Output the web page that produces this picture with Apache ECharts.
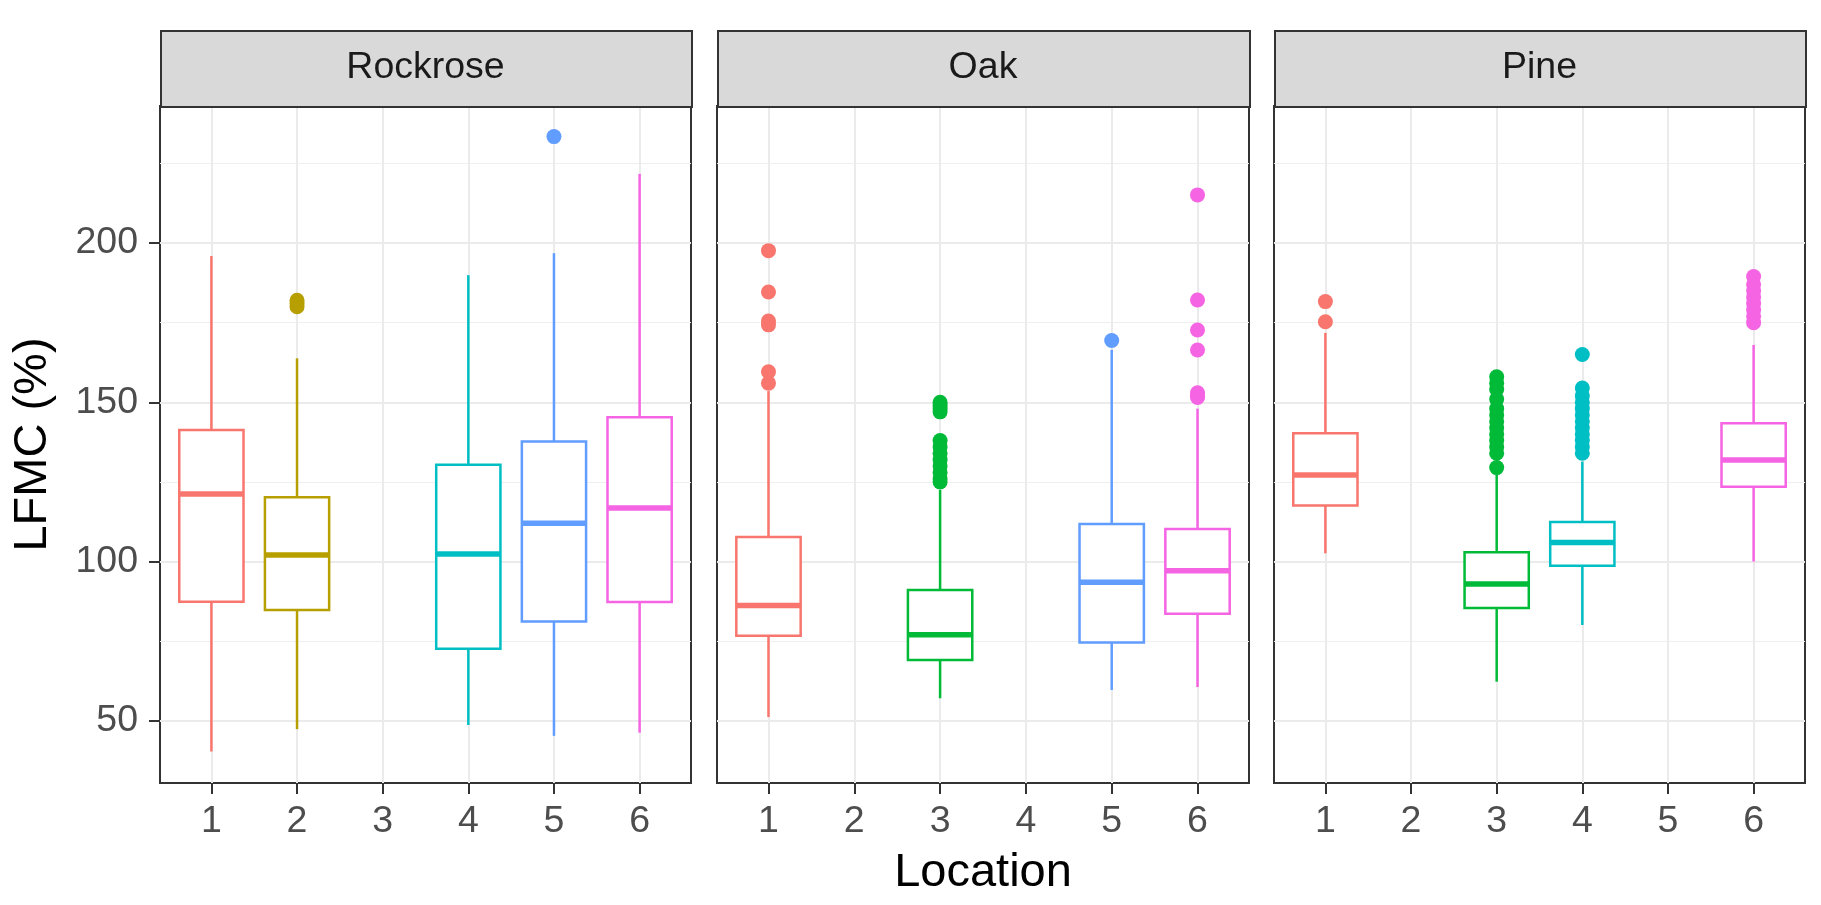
<!DOCTYPE html>
<html><head><meta charset="utf-8">
<script src="https://cdn.jsdelivr.net/npm/echarts@6/dist/echarts.min.js"></script>
<style>html,body{margin:0;padding:0;background:#fff}#c{width:1821px;height:905px}</style>
</head><body><div id="c"></div>
<script>
// ---------------- data ----------------
const facets = ['Rockrose', 'Oak', 'Pine'];
const locations = [1, 2, 3, 4, 5, 6];
const yTicks = [50, 100, 150, 200];
const yMinorTicks = [75, 125, 175, 225];
const yTitle = 'LFMC (%)';
const xTitle = 'Location';

// [location, lower whisker, Q1, median, Q3, upper whisker]
const rockroseBoxes = [
  [1, 40.4, 87.4, 121.2, 141.3, 195.9],
  [2, 47.4, 84.8, 102.1, 120.2, 163.8],
  [4, 48.7, 72.6, 102.4, 130.4, 189.9],
  [5, 45.3, 81.2, 112.0, 137.7, 196.8],
  [6, 46.3, 87.3, 116.8, 145.3, 221.7]
];
const rockroseOutliers = [[2, 180], [2, 181], [2, 182], [5, 233.4]];

const oakBoxes = [
  [1, 51.2, 76.7, 86.2, 107.7, 153.5],
  [3, 57.1, 69.1, 77.0, 91.1, 122.5],
  [5, 59.7, 74.6, 93.5, 111.8, 166.5],
  [6, 60.6, 83.6, 97.1, 110.2, 148.0]
];
const oakOutliers = [
  [1, 197.6], [1, 184.6], [1, 175.5], [1, 174.3], [1, 159.6], [1, 156.0],
  [3, 150], [3, 149], [3, 148], [3, 147], [3, 138], [3, 136], [3, 134], [3, 132], [3, 130], [3, 128], [3, 126], [3, 125],
  [5, 169.4],
  [6, 215.1], [6, 182.1], [6, 172.7], [6, 166.4], [6, 153], [6, 152], [6, 151.5]
];

const pineBoxes = [
  [1, 102.6, 117.6, 127.2, 140.3, 171.8],
  [3, 62.3, 85.4, 93.0, 102.9, 127.7],
  [4, 80.1, 98.7, 106.0, 112.4, 131.4],
  [6, 100.0, 123.5, 131.9, 143.4, 168.0]
];
const pineOutliers = [
  [1, 181.6], [1, 175.3],
  [3, 158], [3, 156], [3, 154], [3, 151], [3, 148], [3, 146], [3, 144], [3, 142], [3, 140], [3, 138], [3, 136], [3, 134], [3, 129.5],
  [4, 165], [4, 154.5], [4, 152], [4, 150], [4, 148], [4, 146], [4, 144], [4, 142], [4, 140], [4, 138], [4, 136], [4, 134],
  [6, 189.5], [6, 187], [6, 185], [6, 183], [6, 181], [6, 179], [6, 177], [6, 175]
];

// ---------------- style / layout ----------------
const palette = ['#F8766D', '#B79F00', '#00BA38', '#00BFC4', '#619CFF', '#F564E3'];
const panels = [
  { left: 160, width: 531 },
  { left: 717, width: 532 },
  { left: 1274, width: 531 }
];
const panelTop = 106, panelHeight = 677, stripTop = 30, stripHeight = 76;
const yMin = 30.5, yMax = 243;
const FONT = 'Liberation Sans, Arial, sans-serif';
const TICK_FS = 37.5, TITLE_FS = 47;

const boxSets = [rockroseBoxes, oakBoxes, pineBoxes];
const outlierSets = [rockroseOutliers, oakOutliers, pineOutliers];

function renderBox(params, api) {
  const x = api.value(0);
  const lo = api.coord([x, api.value(1)]);
  const q1 = api.coord([x, api.value(2)]);
  const md = api.coord([x, api.value(3)]);
  const q3 = api.coord([x, api.value(4)]);
  const hi = api.coord([x, api.value(5)]);
  const hw = api.size([0.75, 0])[0] / 2;
  const color = palette[x - 1];
  return {
    type: 'group',
    children: [
      { type: 'line', shape: { x1: lo[0], y1: lo[1], x2: q1[0], y2: q1[1] }, style: { stroke: color, lineWidth: 2.5 } },
      { type: 'line', shape: { x1: q3[0], y1: q3[1], x2: hi[0], y2: hi[1] }, style: { stroke: color, lineWidth: 2.5 } },
      { type: 'rect', shape: { x: q3[0] - hw, y: q3[1], width: 2 * hw, height: q1[1] - q3[1] }, style: { fill: '#fff', stroke: color, lineWidth: 2.5 } },
      { type: 'line', shape: { x1: md[0] - hw, y1: md[1], x2: md[0] + hw, y2: md[1] }, style: { stroke: color, lineWidth: 5.5 } }
    ]
  };
}

const grid = [], xAxis = [], yAxis = [], series = [], graphic = [];
panels.forEach((p, i) => {
  grid.push({
    left: p.left, top: panelTop, width: p.width, height: panelHeight,
    show: true, borderColor: '#333333', borderWidth: 2, backgroundColor: '#ffffff'
  });
  xAxis.push({
    type: 'value', gridIndex: i, min: 0.4, max: 6.6,
    axisLine: { show: false },
    axisTick: { show: true, length: 11, customValues: locations, lineStyle: { color: '#333333', width: 2 } },
    axisLabel: { show: true, customValues: locations, margin: 20, fontSize: TICK_FS, color: '#4D4D4D', fontFamily: FONT },
    splitLine: { show: true, lineStyle: { color: '#EBEBEB', width: 2 } },
    name: i === 1 ? xTitle : '',
    nameLocation: 'middle', nameGap: 67,
    nameTextStyle: { fontSize: TITLE_FS, color: '#000000', fontFamily: FONT }
  });
  yAxis.push({
    type: 'value', gridIndex: i, min: yMin, max: yMax, position: 'left',
    axisLine: { show: false },
    axisTick: { show: i === 0, length: 11, customValues: yTicks, lineStyle: { color: '#333333', width: 2 } },
    axisLabel: { show: i === 0, customValues: yTicks, margin: 22, fontSize: TICK_FS, color: '#4D4D4D', fontFamily: FONT },
    splitLine: { show: true, lineStyle: { color: '#EBEBEB', width: 2 } },
    name: i === 0 ? yTitle : '',
    nameLocation: 'middle', nameGap: 103,
    nameTextStyle: { fontSize: TITLE_FS, color: '#000000', fontFamily: FONT }
  });
  yAxis.push({
    type: 'value', gridIndex: i, min: yMin, max: yMax, position: 'left',
    axisLine: { show: false },
    axisTick: { show: false, customValues: yMinorTicks },
    axisLabel: { show: false, customValues: yMinorTicks },
    splitLine: { show: true, lineStyle: { color: '#EFEFEF', width: 1.2 } }
  });
  series.push({
    type: 'custom', name: facets[i] + ' boxes', xAxisIndex: i, yAxisIndex: 2 * i,
    renderItem: renderBox, data: boxSets[i], encode: { x: 0, y: [1, 2, 3, 4, 5] }, z: 3
  });
  series.push({
    type: 'scatter', name: facets[i] + ' outliers', xAxisIndex: i, yAxisIndex: 2 * i,
    data: outlierSets[i], symbolSize: 15, z: 4,
    itemStyle: { opacity: 1, color: (prm) => palette[prm.value[0] - 1] }
  });
  graphic.push({
    type: 'rect', left: p.left, top: stripTop,
    shape: { width: p.width, height: stripHeight },
    style: { fill: '#D9D9D9', stroke: '#333333', lineWidth: 2 }, z: 10
  });
  graphic.push({
    type: 'text', x: p.left + p.width / 2, y: stripTop + stripHeight / 2,
    style: { text: facets[i], fontSize: TICK_FS, fill: '#1A1A1A', fontFamily: FONT, align: 'center', verticalAlign: 'middle' }, z: 11
  });
});

const chart = echarts.init(document.getElementById('c'));
chart.setOption({
  backgroundColor: '#ffffff',
  animation: false,
  grid, xAxis, yAxis, series, graphic
});
</script></body></html>
